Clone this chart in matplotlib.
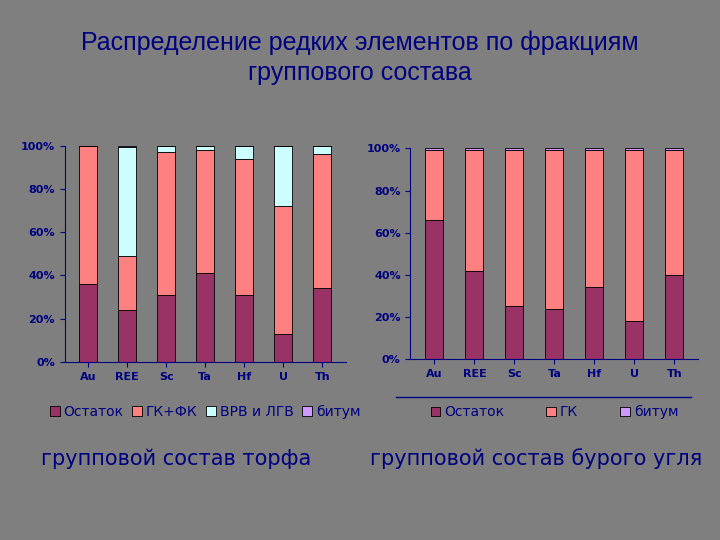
import matplotlib.pyplot as plt
import numpy as np

elements = ['Au', 'REE', 'Sc', 'Ta', 'Hf', 'U', 'Th']

# групповой состав торфа, %
peat_ost = [36, 24, 31, 41, 31, 13, 34]
peat_gk = [64, 25, 66, 57, 63, 59, 62]
peat_vrv = [0, 50.5, 3, 2, 6, 28, 4]
peat_bit = [0, 0.5, 0, 0, 0, 0, 0]

# групповой состав бурого угля, %
coal_ost = [66, 42, 25, 24, 34, 18, 40]
coal_gk = [33.5, 57.5, 74.5, 75.5, 65.5, 81.5, 59.5]
coal_bit = [0.5, 0.5, 0.5, 0.5, 0.5, 0.5, 0.5]

bg = '#7f7f7f'
c_ost = '#993366'
c_gk = '#ff8080'
c_vrv = '#ccffff'
c_bit = '#cc99ff'
navy = '#000080'

fig = plt.figure(figsize=(7.2, 5.4), dpi=100, facecolor=bg)
fig.text(0.5, 0.893, 'Распределение редких элементов по фракциям\nгруппового состава',
         ha='center', va='center', fontsize=18, color=navy, fontname='Liberation Sans',
         linespacing=1.3)


def stacked(ax, series, colors, labels):
    x = np.arange(len(elements))
    bottom = np.zeros(len(elements))
    handles = []
    for vals, col, lab in zip(series, colors, labels):
        h = ax.bar(x, vals, 0.45, bottom=bottom, color=col, edgecolor='black',
                   linewidth=0.6, label=lab)
        handles.append(h)
        bottom += np.array(vals)
    ax.set_facecolor(bg)
    ax.set_xlim(-0.6, len(elements) - 0.4)
    ax.set_ylim(0, 100)
    ax.set_yticks(range(0, 101, 20))
    ax.set_yticklabels([f'{v}%' for v in range(0, 101, 20)])
    ax.set_xticks(x)
    ax.set_xticklabels(elements)
    for s in ['top', 'right']:
        ax.spines[s].set_visible(False)
    for s in ['left', 'bottom']:
        ax.spines[s].set_color(navy)
    ax.tick_params(colors=navy, labelsize=8)
    for t in ax.get_xticklabels() + ax.get_yticklabels():
        t.set_fontweight('bold')
    return handles


ax1 = fig.add_axes([0.09, 0.33, 0.39, 0.40])
stacked(ax1, [peat_ost, peat_gk, peat_vrv, peat_bit], [c_ost, c_gk, c_vrv, c_bit],
        ['Остаток', 'ГК+ФК', 'ВРВ и ЛГВ', 'битум'])
ax1.legend(loc='upper center', bbox_to_anchor=(0.5, -0.14), ncol=4, frameon=False,
           fontsize=10, labelcolor=navy, handlelength=0.7, columnspacing=0.6,
           handletextpad=0.3)

ax2 = fig.add_axes([0.57, 0.335, 0.40, 0.39])
stacked(ax2, [coal_ost, coal_gk, coal_bit], [c_ost, c_gk, c_bit],
        ['Остаток', 'ГК', 'битум'])
ax2.legend(loc='upper center', bbox_to_anchor=(0.5, -0.16), ncol=3, frameon=False,
           fontsize=10, labelcolor=navy, handlelength=0.7, columnspacing=3,
           handletextpad=0.3)
fig.add_artist(plt.Line2D([0.55, 0.96], [0.265, 0.265], color=navy, lw=1))

fig.text(0.245, 0.138, 'групповой состав торфа', ha='center', fontsize=15, color=navy)
fig.text(0.745, 0.138, 'групповой состав бурого угля', ha='center', fontsize=15, color=navy)

fig.savefig('out.png', dpi=100, facecolor=bg)
